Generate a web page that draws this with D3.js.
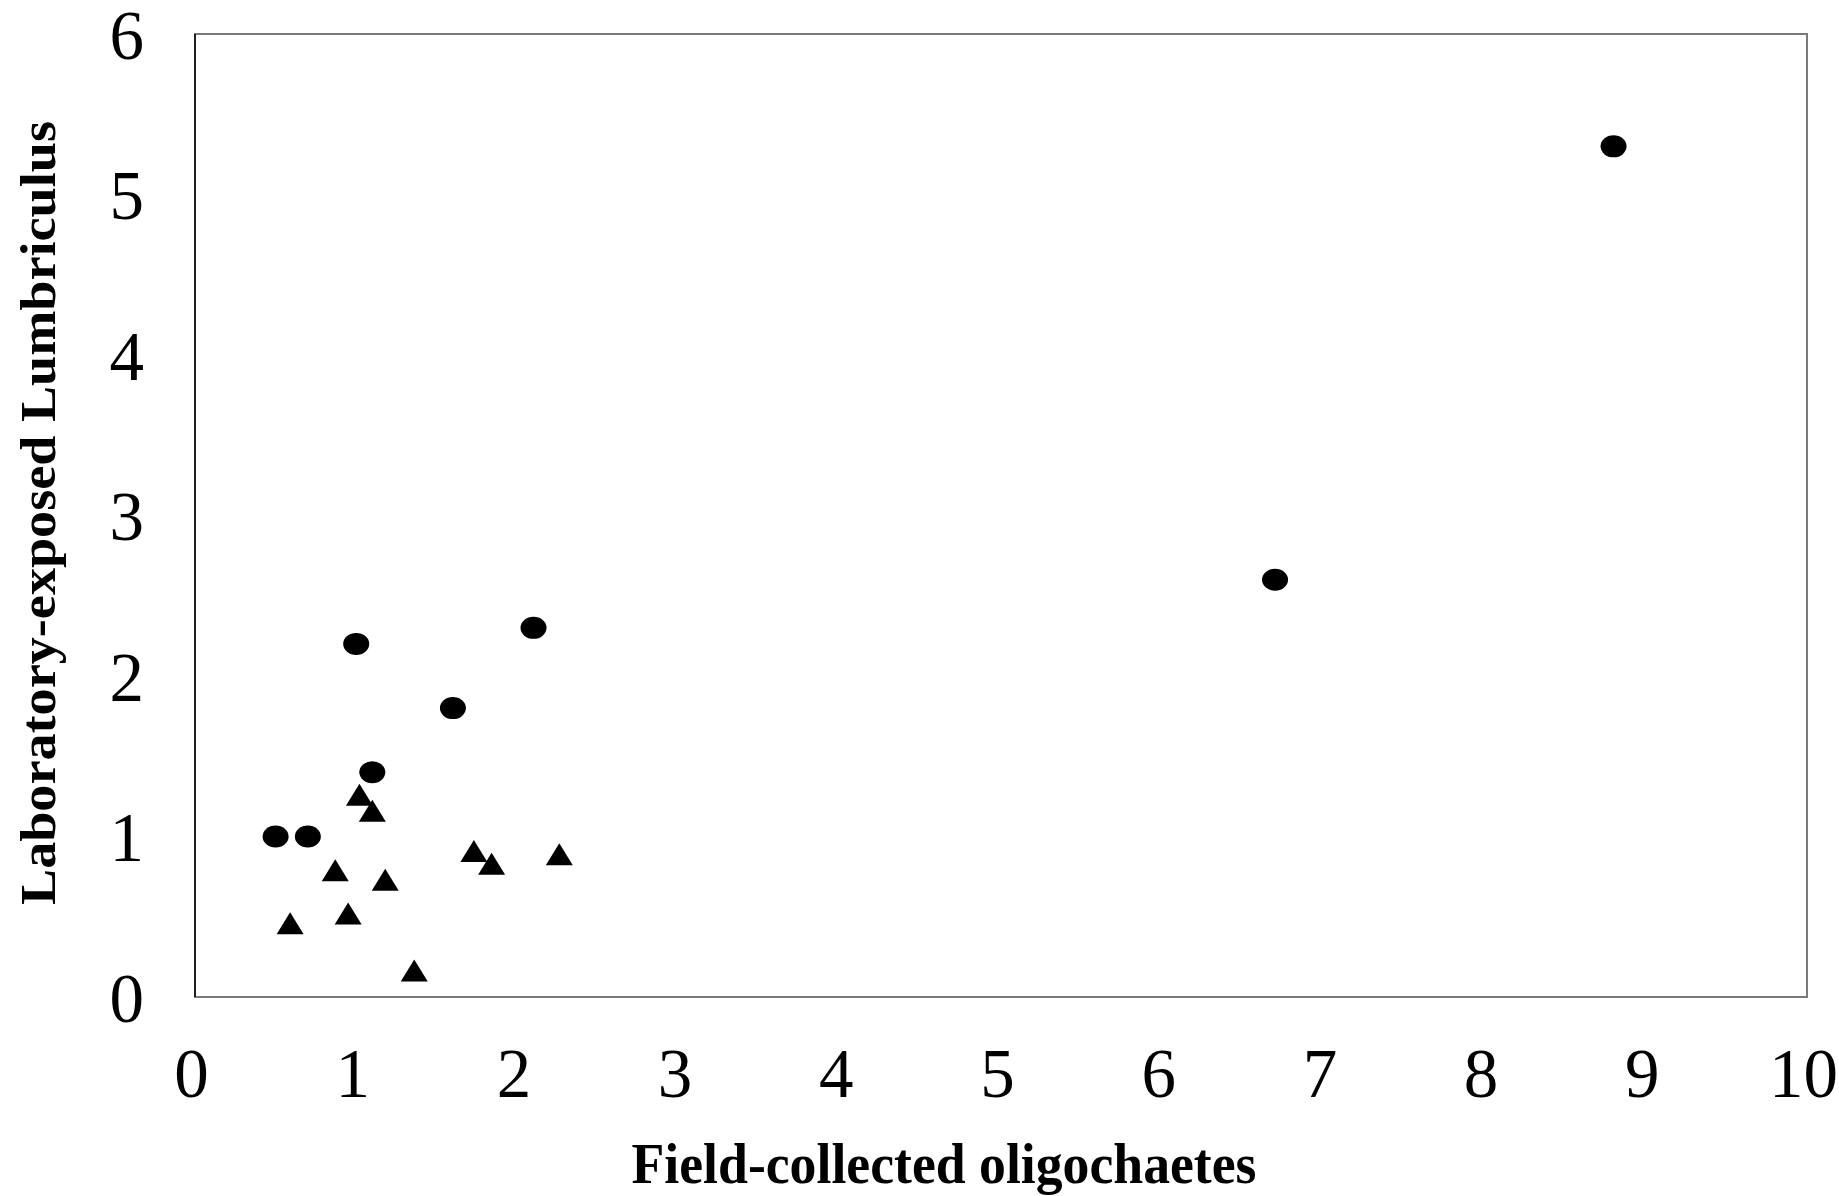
<!DOCTYPE html>
<html>
<head>
<meta charset="utf-8">
<script src="https://cdn.jsdelivr.net/npm/d3@7"></script>
<style>
  body { margin: 0; background: #fff; }
  svg text { font-family: "Liberation Serif", "Times New Roman", serif; fill: #000; }
</style>
</head>
<body>
<svg id="chart"></svg>
<script>
// field-collected (x) vs laboratory-exposed (y)
const circleX = [0.5, 0.7, 1.0, 1.1, 1.6, 2.1, 6.7, 8.8];
const circleY = [1.0, 1.0, 2.2, 1.4, 1.8, 2.3, 2.6, 5.3];

const triangleX = [0.59, 0.87, 0.95, 1.02, 1.1, 1.18, 1.36, 1.73, 1.84, 2.26];
const triangleY = [0.46, 0.79, 0.52, 1.26, 1.16, 0.73, 0.165, 0.91, 0.83, 0.89];

const xTicks = [0, 1, 2, 3, 4, 5, 6, 7, 8, 9, 10];
const yTicks = [0, 1, 2, 3, 4, 5, 6];

const xTitle = "Field-collected oligochaetes";
const yTitle = "Laboratory-exposed Lumbriculus";

const WIDTH = 1839, HEIGHT = 1196;
const PLOT = { left: 195, right: 1807, top: 34, bottom: 997 };

const svg = d3.select("#chart").attr("width", WIDTH).attr("height", HEIGHT);

const x = d3.scaleLinear().domain([0, 10]).range([PLOT.left, PLOT.right]);
const y = d3.scaleLinear().domain([0, 6]).range([PLOT.bottom, PLOT.top]);

// plot frame: gray box, black left axis
svg.append("rect")
  .attr("x", PLOT.left).attr("y", PLOT.top)
  .attr("width", PLOT.right - PLOT.left).attr("height", PLOT.bottom - PLOT.top)
  .attr("fill", "none").attr("stroke", "#7a7a7a").attr("stroke-width", 2);
svg.append("line")
  .attr("x1", PLOT.left).attr("x2", PLOT.left)
  .attr("y1", PLOT.top).attr("y2", PLOT.bottom)
  .attr("stroke", "#000").attr("stroke-width", 1.5);

// axes (labels only, no tick marks)
const xAxis = svg.append("g")
  .attr("transform", `translate(-4, ${PLOT.bottom})`)
  .call(d3.axisBottom(x).tickValues(xTicks).tickSize(0).tickFormat(d3.format("d")));
xAxis.select(".domain").remove();
xAxis.selectAll("text")
  .attr("y", 100).attr("dy", 0)
  .style("font-family", '"Liberation Serif", "Times New Roman", serif')
  .style("font-size", "69px").attr("fill", "#000");

const yAxis = svg.append("g")
  .attr("transform", `translate(${PLOT.left}, 0)`)
  .call(d3.axisLeft(y).tickValues(yTicks).tickSize(0).tickFormat(d3.format("d")));
yAxis.select(".domain").remove();
yAxis.selectAll("text")
  .attr("x", -51).attr("dy", "0.35em")
  .style("font-family", '"Liberation Serif", "Times New Roman", serif')
  .style("font-size", "69px").attr("fill", "#000");

// markers
svg.append("g")
  .selectAll("ellipse")
  .data(circleX.map((d, i) => [d, circleY[i]]))
  .join("ellipse")
  .attr("cx", (d) => x(d[0]))
  .attr("cy", (d) => y(d[1]))
  .attr("rx", 13).attr("ry", 11)
  .attr("fill", "#000");

const tri = (w, h) => `M0,${-h / 2}L${w / 2},${h / 2}L${-w / 2},${h / 2}Z`;
svg.append("g")
  .selectAll("path")
  .data(triangleX.map((d, i) => [d, triangleY[i]]))
  .join("path")
  .attr("transform", (d) => `translate(${x(d[0])}, ${y(d[1])})`)
  .attr("d", tri(27, 22))
  .attr("fill", "#000");

// titles
svg.append("text")
  .attr("x", 944).attr("y", 1183)
  .attr("text-anchor", "middle")
  .attr("textLength", 625).attr("lengthAdjust", "spacingAndGlyphs")
  .style("font-size", "56px").style("font-weight", "bold")
  .text(xTitle);

svg.append("text")
  .attr("transform", "translate(55, 513) rotate(-90)")
  .attr("text-anchor", "middle")
  .attr("textLength", 784).attr("lengthAdjust", "spacingAndGlyphs")
  .style("font-size", "50px").style("font-weight", "bold")
  .text(yTitle);
</script>
</body>
</html>
